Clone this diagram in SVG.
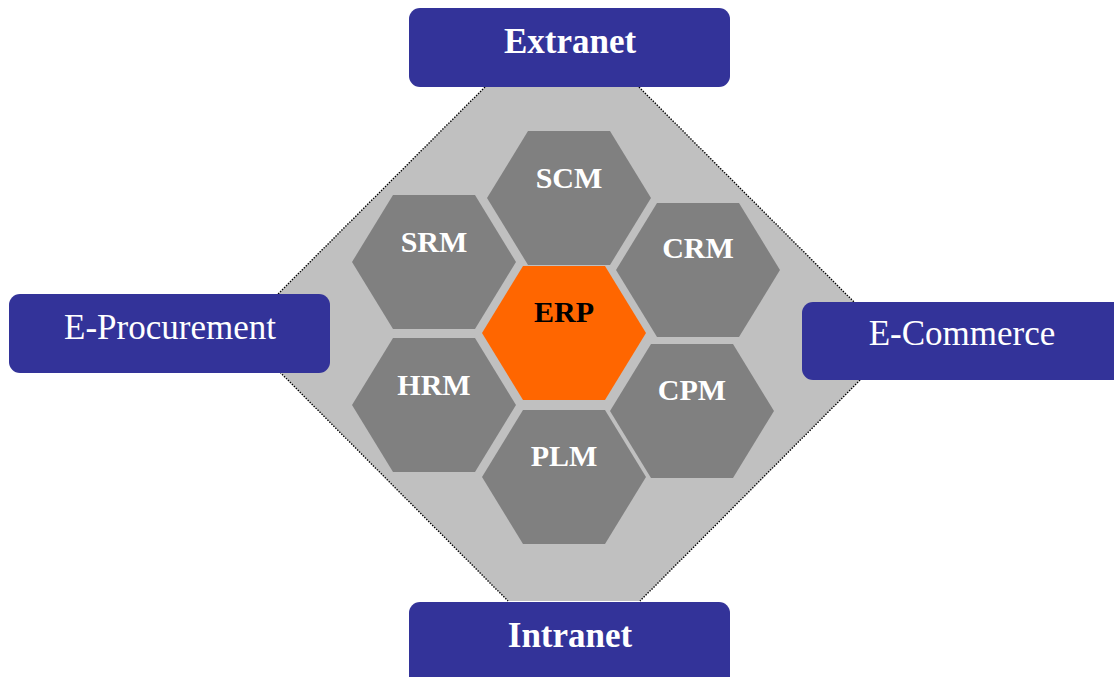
<svg xmlns="http://www.w3.org/2000/svg" width="1114" height="677" viewBox="0 0 1114 677">
<style>
.hex{fill:#808080}
.erp{fill:#FF6600}
.box{fill:#333399}
.lbl{font-family:"Liberation Serif","Times New Roman",serif;font-weight:bold;font-size:30px;text-anchor:middle;fill:#FFFFFF}
.blbl{font-family:"Liberation Serif","Times New Roman",serif;font-size:35px;text-anchor:middle;fill:#FFFFFF}
.edge{stroke:#000;stroke-width:1.4;stroke-dasharray:1.4 1.4;fill:none}
</style>
<defs>
<polygon id="hx" points="-41,-67 41,-67 82,0 41,67 -41,67 -82,0"/>
</defs>
<rect width="1114" height="677" fill="#FFFFFF"/>
<g id="backdrop">
<polygon points="485,87 639,87 896,344 640,601 508,601 240,332" fill="#C0C0C0"/>
</g>
<g id="connectors">
<path class="edge" d="M485,87 L240,332 L508,601"/>
<path class="edge" d="M639,87 L896,344 L640,601"/>
</g>
<g id="SCM"><use href="#hx" class="hex" x="569" y="198"/><text class="lbl" x="569" y="188">SCM</text></g>
<g id="SRM"><use href="#hx" class="hex" x="434" y="262"/><text class="lbl" x="434" y="252">SRM</text></g>
<g id="CRM"><use href="#hx" class="hex" x="698" y="270"/><text class="lbl" x="698" y="258">CRM</text></g>
<g id="ERP"><use href="#hx" class="erp" x="564" y="333"/><text class="lbl" x="564" y="322" style="fill:#000000">ERP</text></g>
<g id="HRM"><use href="#hx" class="hex" x="434" y="405"/><text class="lbl" x="434" y="395">HRM</text></g>
<g id="CPM"><use href="#hx" class="hex" x="692" y="411"/><text class="lbl" x="692" y="400">CPM</text></g>
<g id="PLM"><use href="#hx" class="hex" x="564" y="477"/><text class="lbl" x="564" y="466">PLM</text></g>
<g id="Extranet"><rect class="box" x="409" y="8" width="321" height="79" rx="11"/><text class="blbl" x="570" y="53" font-weight="bold">Extranet</text></g>
<g id="E-Procurement"><rect class="box" x="9" y="294" width="321" height="79" rx="11"/><text class="blbl" x="170" y="339">E-Procurement</text></g>
<g id="E-Commerce"><rect class="box" x="802" y="302" width="330" height="78" rx="11"/><text class="blbl" x="962" y="345">E-Commerce</text></g>
<g id="Intranet"><rect class="box" x="409" y="602" width="321" height="90" rx="11"/><text class="blbl" x="570" y="647" font-weight="bold">Intranet</text></g>
</svg>
